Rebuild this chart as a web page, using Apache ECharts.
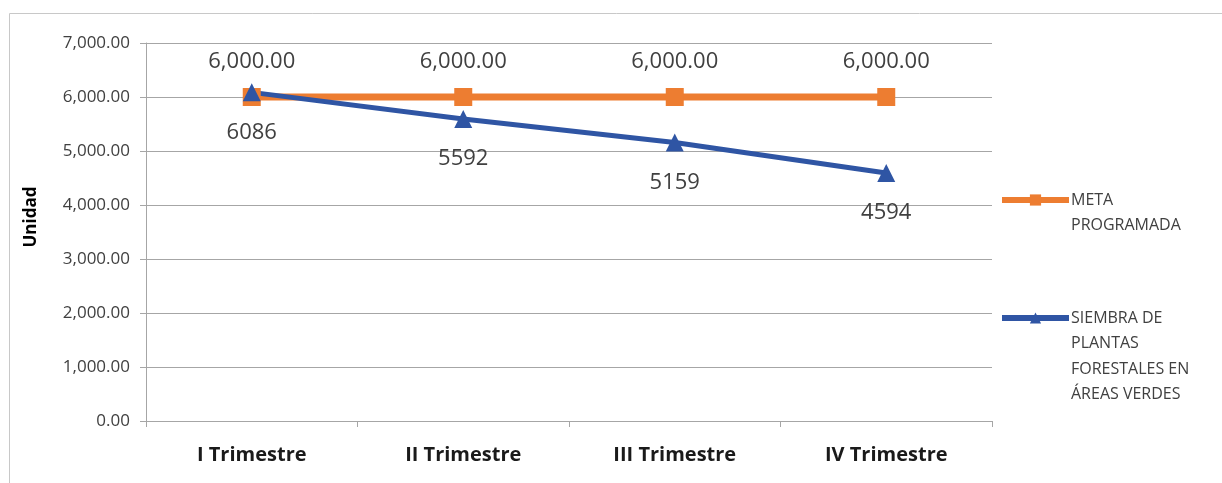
<!DOCTYPE html>
<html>
<head>
<meta charset="utf-8">
<script src="https://cdn.jsdelivr.net/npm/echarts@6/dist/echarts.min.js"></script>
<style>
  html, body { margin: 0; padding: 0; background: #fff; }
  #main { width: 1222px; height: 483px; }
</style>
</head>
<body>
<div id="main"></div>
<script>
const categories = ['I Trimestre', 'II Trimestre', 'III Trimestre', 'IV Trimestre']
const metaProgramada = [6000, 6000, 6000, 6000]
const siembra = [6086, 5592, 5159, 4594]
const seriesNames = ['META PROGRAMADA', 'SIEMBRA DE PLANTAS FORESTALES EN ÁREAS VERDES']
const legendLines = [['META', 'PROGRAMADA'], ['SIEMBRA DE', 'PLANTAS', 'FORESTALES EN', 'ÁREAS VERDES']]

const font = '"Open Sans", Lato, sans-serif'
const textColor = '#404040'
const fmt2 = v => v.toLocaleString('en-US', { minimumFractionDigits: 2, maximumFractionDigits: 2 })

// legend text is centred on the icon, so pad with blank lines above
// to get the icon level with the first line
const legendLineHeight = 25.5
const makeLegend = (i, iconY) => {
  const lines = legendLines[i]
  const blanks = new Array(lines.length - 1).fill(' ')
  const total = blanks.length + lines.length
  return {
    data: [seriesNames[i]],
    orient: 'vertical',
    left: 999,
    top: iconY - total * legendLineHeight / 2,
    itemWidth: 67,
    itemHeight: 14,
    itemGap: 0,
    padding: 0,
    selectedMode: false,
    lineStyle: { width: 6 },
    formatter: () => blanks.concat(lines).join('\n'),
    textStyle: {
      fontFamily: font,
      fontSize: 16,
      color: textColor,
      lineHeight: legendLineHeight,
      padding: [0, 0, 0, -3]
    }
  }
}

const chart = echarts.init(document.getElementById('main'))
chart.setOption({
  animation: false,
  graphic: [{
    type: 'rect',
    shape: { x: 9.5, y: 13.5, width: 1240, height: 500 },
    style: { fill: 'none', stroke: '#c8c8c8', lineWidth: 1 }
  }],
  legend: [makeLegend(0, 200), makeLegend(1, 318)],
  grid: { left: 146, right: 230, top: 43, bottom: 62 },
  xAxis: {
    type: 'category',
    data: categories,
    boundaryGap: true,
    axisLine: { lineStyle: { color: '#a6a6a6', width: 1 } },
    axisTick: { show: true, length: 6, lineStyle: { color: '#a6a6a6' } },
    axisLabel: { fontFamily: font, fontSize: 20, fontWeight: 'bold', color: '#1a1a1a', margin: 24 }
  },
  yAxis: {
    type: 'value',
    min: 0,
    max: 7000,
    interval: 1000,
    name: 'Unidad',
    nameLocation: 'middle',
    nameGap: 106,
    nameRotate: 90,
    nameTextStyle: {
      fontFamily: font, fontSize: 17, fontWeight: 'bold', color: '#000',
      padding: [0, 0, 0, 30]
    },
    axisLine: { show: true, lineStyle: { color: '#a6a6a6' } },
    axisTick: { show: true, length: 6, lineStyle: { color: '#a6a6a6' } },
    splitLine: { lineStyle: { color: '#a6a6a6' } },
    axisLabel: { fontFamily: font, fontSize: 17, color: textColor, margin: 16, formatter: fmt2 }
  },
  series: [{
    name: seriesNames[0],
    type: 'line',
    data: metaProgramada,
    color: '#ED7D31',
    lineStyle: { width: 7 },
    symbol: 'rect',
    symbolSize: 18,
    itemStyle: { color: '#ED7D31' },
    label: {
      show: true,
      position: 'top',
      distance: 15,
      fontFamily: font,
      fontSize: 22,
      color: textColor,
      formatter: p => fmt2(p.value)
    }
  }, {
    name: seriesNames[1],
    type: 'line',
    data: siembra,
    color: '#2F55A4',
    lineStyle: { width: 5 },
    symbol: 'triangle',
    symbolSize: 18,
    itemStyle: { color: '#2F55A4' },
    label: {
      show: true,
      position: 'bottom',
      distance: 20,
      fontFamily: font,
      fontSize: 22,
      color: textColor
    }
  }]
})
</script>
</body>
</html>
